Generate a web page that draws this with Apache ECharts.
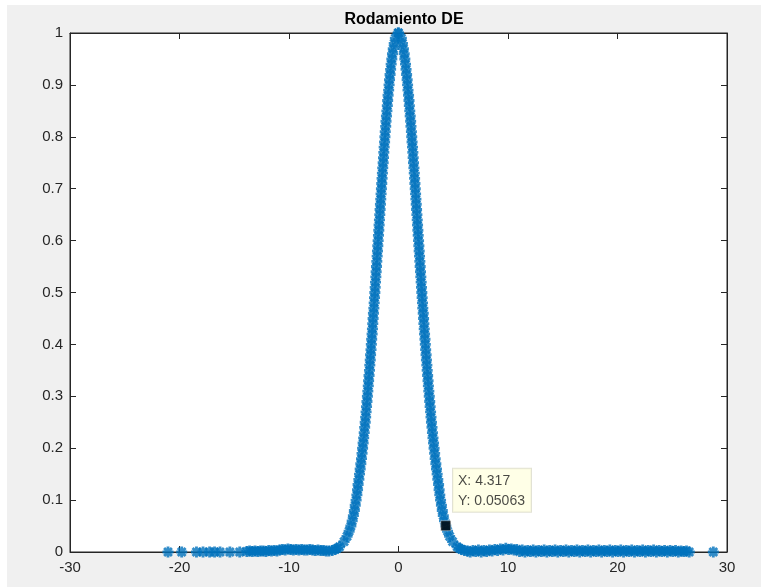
<!DOCTYPE html>
<html>
<head>
<meta charset="utf-8">
<script src="https://cdn.jsdelivr.net/npm/echarts@6/dist/echarts.min.js"></script>
<style>
  html, body { margin: 0; padding: 0; background: #ffffff; }
  #chart { width: 761px; height: 588px; }
</style>
</head>
<body>
<div id="chart"></div>
<script>
// Normalised density levels shared by both flanks of the bell curve
const yLevels = [
  1.00,0.99,0.98,0.97,0.96,0.95,0.94,0.93,0.92,0.91,
  0.90,0.89,0.88,0.87,0.86,0.85,0.84,0.83,0.82,0.81,
  0.80,0.79,0.78,0.77,0.76,0.75,0.74,0.73,0.72,0.71,
  0.70,0.69,0.68,0.67,0.66,0.65,0.64,0.63,0.62,0.61,
  0.60,0.59,0.58,0.57,0.56,0.55,0.54,0.53,0.52,0.51,
  0.50,0.49,0.48,0.47,0.46,0.45,0.44,0.43,0.42,0.41,
  0.40,0.39,0.38,0.37,0.36,0.35,0.34,0.33,0.32,0.31,
  0.30,0.29,0.28,0.27,0.26,0.25,0.24,0.23,0.22,0.21,
  0.20,0.19,0.18,0.17,0.16,0.15,0.14,0.13,0.12,0.11,
  0.10,0.09,0.08,0.07,0.06,0.05,0.04,0.03,0.02,0.01,
  0.007,0.005,0.003
];
// x position of each level on the right flank
const rightSideX = [
  0.00,0.26,0.36,0.45,0.52,0.58,0.64,0.69,0.74,0.79,
  0.83,0.87,0.92,0.96,0.99,1.03,1.07,1.11,1.14,1.18,
  1.21,1.24,1.28,1.31,1.34,1.37,1.41,1.44,1.47,1.50,
  1.53,1.56,1.59,1.62,1.65,1.68,1.71,1.74,1.77,1.80,
  1.83,1.86,1.89,1.92,1.95,1.98,2.01,2.04,2.07,2.10,
  2.13,2.16,2.19,2.22,2.26,2.29,2.32,2.35,2.38,2.42,
  2.45,2.48,2.52,2.55,2.59,2.62,2.66,2.70,2.73,2.77,
  2.81,2.85,2.89,2.93,2.97,3.01,3.06,3.10,3.15,3.20,
  3.25,3.30,3.35,3.41,3.47,3.53,3.59,3.66,3.71,3.77,
  3.84,3.92,4.00,4.09,4.20,4.32,4.48,4.67,4.94,5.36,
  5.56,5.75,6.02
];
// x position of each level on the left flank
const leftSideX = [
  -0.03,-0.29,-0.39,-0.48,-0.55,-0.61,-0.67,-0.72,-0.77,-0.82,
  -0.86,-0.90,-0.95,-0.99,-1.02,-1.06,-1.10,-1.14,-1.17,-1.21,
  -1.24,-1.27,-1.31,-1.34,-1.37,-1.40,-1.44,-1.47,-1.50,-1.53,
  -1.56,-1.59,-1.62,-1.65,-1.68,-1.71,-1.74,-1.77,-1.80,-1.83,
  -1.86,-1.89,-1.92,-1.95,-1.98,-2.01,-2.04,-2.07,-2.10,-2.13,
  -2.16,-2.19,-2.22,-2.25,-2.29,-2.32,-2.35,-2.38,-2.41,-2.45,
  -2.48,-2.51,-2.55,-2.58,-2.62,-2.65,-2.69,-2.73,-2.76,-2.80,
  -2.84,-2.88,-2.92,-2.96,-3.00,-3.04,-3.09,-3.13,-3.18,-3.23,
  -3.28,-3.33,-3.38,-3.44,-3.50,-3.56,-3.62,-3.69,-3.74,-3.80,
  -3.87,-3.95,-4.03,-4.12,-4.23,-4.35,-4.51,-4.70,-4.97,-5.39,
  -5.59,-5.78,-6.05
];
// Left tail samples
const leftTailX = [
  -21.05,-19.80,-18.45,-17.85,-17.25,-16.80,-16.30,-15.40,-14.50,
  -13.85,-13.60,-13.35,-13.10,-12.85,-12.60,-12.35,-12.10,-11.85,-11.60,
  -11.35,-11.10,-10.85,-10.60,-10.35,-10.10,-9.85,-9.60,-9.35,-9.10,
  -8.85,-8.60,-8.35,-8.10,-7.85,-7.60,-7.35,-7.10,-6.85,-6.60,-6.35
];
const leftTailY = [
  0.000,0.000,0.000,0.000,0.000,0.000,0.000,0.000,0.000,
  0.001,0.002,0.001,0.002,0.001,0.002,0.002,0.001,0.003,0.002,
  0.003,0.002,0.004,0.005,0.004,0.006,0.005,0.004,0.005,0.004,
  0.005,0.004,0.004,0.005,0.004,0.003,0.004,0.003,0.003,0.002,0.002
];
// Right tail samples
const rightTailX = [
  6.30,6.55,6.80,7.05,7.30,7.55,7.80,8.05,8.30,8.55,
  8.80,9.05,9.30,9.55,9.80,10.05,10.30,10.55,10.80,11.05,
  11.30,11.55,11.80,12.05,12.30,12.55,12.80,13.05,13.30,13.55,
  13.80,14.05,14.30,14.55,14.80,15.05,15.30,15.55,15.80,16.05,
  16.30,16.55,16.80,17.05,17.30,17.55,17.80,18.05,18.30,18.55,
  18.80,19.05,19.30,19.55,19.80,20.05,20.30,20.55,20.80,21.05,
  21.30,21.55,21.80,22.05,22.30,22.55,22.80,23.05,23.30,23.55,
  23.80,24.05,24.30,24.55,24.80,25.05,25.30,25.55,25.80,26.05,
  26.30,26.55,28.75
];
const rightTailY = [
  0.002,0.000,0.003,0.001,0.004,0.000,0.003,0.001,0.004,0.002,
  0.005,0.003,0.006,0.004,0.007,0.005,0.006,0.004,0.005,0.001,
  0.004,0.000,0.003,0.001,0.004,0.000,0.003,0.001,0.004,0.000,
  0.003,0.001,0.004,0.000,0.003,0.001,0.004,0.000,0.003,0.001,
  0.004,0.000,0.003,0.001,0.004,0.000,0.003,0.001,0.004,0.000,
  0.003,0.001,0.004,0.000,0.003,0.001,0.004,0.000,0.003,0.001,
  0.004,0.000,0.003,0.001,0.004,0.000,0.003,0.001,0.004,0.000,
  0.003,0.001,0.003,0.000,0.003,0.001,0.003,0.000,0.002,0.001,
  0.002,0.000,0.000
];
// Highlighted data tip
const tipX = 4.317;
const tipY = 0.05063;

const xTicks = { min: -30, max: 30, interval: 10 };
const yTicks = { min: 0, max: 1, interval: 0.1 };

const pairs = (xs, ys) => xs.map((x, i) => [x, ys[i]]);
const points = []
  .concat(pairs(leftTailX, leftTailY))
  .concat(pairs(leftSideX, yLevels))
  .concat(pairs(rightSideX, yLevels))
  .concat(pairs(rightTailX, rightTailY));

// Eight-armed asterisk marker built from four filled bars
const asterisk = 'path://M0 3.7L10 3.7L10 6.3L0 6.3Z' +
  'M3.7 0L6.3 0L6.3 10L3.7 10Z' +
  'M2.38 0.54L9.46 7.62L7.62 9.46L0.54 2.38Z' +
  'M7.62 0.54L9.46 2.38L2.38 9.46L0.54 7.62Z';

const FONT = '"Liberation Sans", Arial, Helvetica, sans-serif';
const INK = '#262626';
const BLUE = '#0072bd';

const chart = echarts.init(document.getElementById('chart'), null, { renderer: 'canvas' });

const axisCommon = {
  axisLine: { show: true, onZero: false, lineStyle: { color: INK, width: 1 } },
  axisTick: { show: true, inside: true, length: 6, lineStyle: { color: INK, width: 1 } },
  splitLine: { show: false }
};

chart.setOption({
  backgroundColor: '#ffffff',
  animation: false,
  graphic: [{
    type: 'rect',
    z: -10,
    silent: true,
    shape: { x: 7, y: 5, width: 754, height: 582 },
    style: { fill: '#f0f0f0' }
  }],
  title: {
    text: 'Rodamiento DE',
    left: 399,
    top: 7,
    textAlign: 'center',
    textStyle: { fontFamily: FONT, fontSize: 16, fontWeight: 'bold', color: '#000000' }
  },
  grid: {
    left: 70, top: 33, width: 657, height: 519,
    show: true, backgroundColor: '#ffffff', borderColor: INK, borderWidth: 1,
    containLabel: false
  },
  xAxis: [
    Object.assign({
      type: 'value', position: 'bottom',
      min: xTicks.min, max: xTicks.max, interval: xTicks.interval,
      axisLabel: { show: true, margin: 8, fontFamily: FONT, fontSize: 15, color: INK }
    }, axisCommon),
    Object.assign({
      type: 'value', position: 'top',
      min: xTicks.min, max: xTicks.max, interval: xTicks.interval,
      axisLabel: { show: false }
    }, axisCommon)
  ],
  yAxis: [
    Object.assign({
      type: 'value', position: 'left',
      min: yTicks.min, max: yTicks.max, interval: yTicks.interval,
      axisLabel: { show: true, margin: 7, fontFamily: FONT, fontSize: 15, color: INK }
    }, axisCommon),
    Object.assign({
      type: 'value', position: 'right',
      min: yTicks.min, max: yTicks.max, interval: yTicks.interval,
      axisLabel: { show: false }
    }, axisCommon)
  ],
  series: [
    {
      type: 'scatter',
      xAxisIndex: 0, yAxisIndex: 0,
      data: points,
      symbol: asterisk,
      symbolSize: 11,
      clip: false,
      itemStyle: { color: BLUE },
      z: 3
    },
    {
      type: 'scatter',
      xAxisIndex: 0, yAxisIndex: 0,
      data: [[tipX, tipY]],
      symbol: 'rect',
      symbolSize: 10,
      clip: false,
      itemStyle: { color: '#000000', borderColor: '#ffffff', borderWidth: 0.5 },
      z: 5,
      label: {
        show: true,
        position: 'right',
        distance: 2,
        align: 'left',
        verticalAlign: 'bottom',
        offset: [0, -14],
        formatter: () => 'X: ' + tipX + '\nY: ' + tipY,
        fontFamily: FONT,
        fontSize: 14,
        lineHeight: 20,
        color: '#1a1a1a',
        backgroundColor: '#ffffe1',
        borderColor: '#d9d9c8',
        borderWidth: 1,
        padding: [2, 6, 1, 5]
      }
    }
  ]
});
</script>
</body>
</html>
